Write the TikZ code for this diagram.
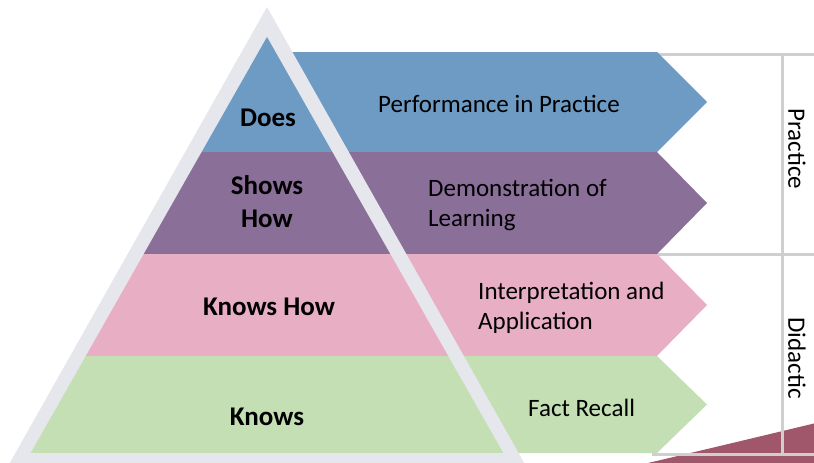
\documentclass[tikz,border=0pt]{standalone}
\usepackage{fontspec}
\setmainfont{Carlito}
\definecolor{cblue}{HTML}{6D9BC3}
\definecolor{cpurple}{HTML}{8A6F99}
\definecolor{cpink}{HTML}{E8AFC4}
\definecolor{cgreen}{HTML}{C5DFB4}
\definecolor{cband}{HTML}{E6E7EC}
\definecolor{cred}{HTML}{A0566B}
\definecolor{cline}{HTML}{CFCFCF}
\tikzset{
  pyrlabel/.style={font=\bfseries\fontsize{27}{33}\selectfont, align=center, inner sep=0pt, text=black},
  chevlabel/.style={font=\fontsize{25}{30}\selectfont, align=left, anchor=west, inner sep=0pt, text=black},
  sidelabel/.style={font=\fontsize{25}{30}\selectfont, rotate=-90, inner sep=0pt, text=black},
  gridline/.style={draw=cline, line width=3pt},
}
\begin{document}
\begin{tikzpicture}[x=1pt,y=-1pt]
\useasboundingbox (0,0) rectangle (814,463);
\clip (0,0) rectangle (814,463);
% red wedge
\fill[cred] (648,463) .. controls (720,446) .. (816,423) -- (816,466) -- (648,466) -- cycle;
% grid lines
\coordinate (t1) at (640,54.5);   \coordinate (t2) at (816,54.5);
\coordinate (m1) at (640,254.5);  \coordinate (m2) at (816,254.5);
\coordinate (b1) at (652,454);    \coordinate (b2) at (816,454);
\coordinate (v1) at (782.5,56);   \coordinate (v2) at (782.5,454);
\draw[gridline] (t1) -- (t2);
\draw[gridline] (m1) -- (m2);
\draw[gridline] (b1) -- (b2);
\draw[gridline] (v1) -- (v2);
% chevrons
\fill[cblue]   (267,52)  -- (657,52)  -- (707,102)   -- (657,152) -- (267,152) -- cycle;
\fill[cpurple] (267,152) -- (657,152) -- (707,203)   -- (657,254) -- (267,254) -- cycle;
\fill[cpink]   (267,254) -- (657,254) -- (707,305)   -- (657,356) -- (267,356) -- cycle;
\fill[cgreen]  (267,356) -- (657,356) -- (707,404.5) -- (657,453) -- (267,453) -- cycle;
% grey outer triangle
\fill[cband] (267,7) -- (533.8,480) -- (0.2,480) -- cycle;
% inner coloured bands
\begin{scope}
\clip (267,37) -- (503.3,453) -- (30.7,453) -- cycle;
\fill[cblue]   (0,30)  rectangle (600,152);
\fill[cpurple] (0,152) rectangle (600,254);
\fill[cpink]   (0,254) rectangle (600,356);
\fill[cgreen]  (0,356) rectangle (600,453);
\end{scope}
% pyramid labels
\node[pyrlabel] (does) at (268,118) {Does};
\node[pyrlabel] (shows) at (267,202) {Shows\\How};
\node[pyrlabel] (knowshow) at (269,307) {Knows How};
\node[pyrlabel] (knows) at (267,417) {Knows};
% chevron labels
\node[chevlabel] (perf) at (378,103.5) {Performance in Practice};
\node[chevlabel] (demo) at (428,205) {Demonstration of\\Learning};
\node[chevlabel] (interp) at (478,307.5) {Interpretation and\\Application};
\node[chevlabel] (fact) at (528,407.5) {Fact Recall};
% side labels
\node[sidelabel] (practice) at (797,149) {Practice};
\node[sidelabel] (didactic) at (797,358) {Didactic};
\end{tikzpicture}
\end{document}
